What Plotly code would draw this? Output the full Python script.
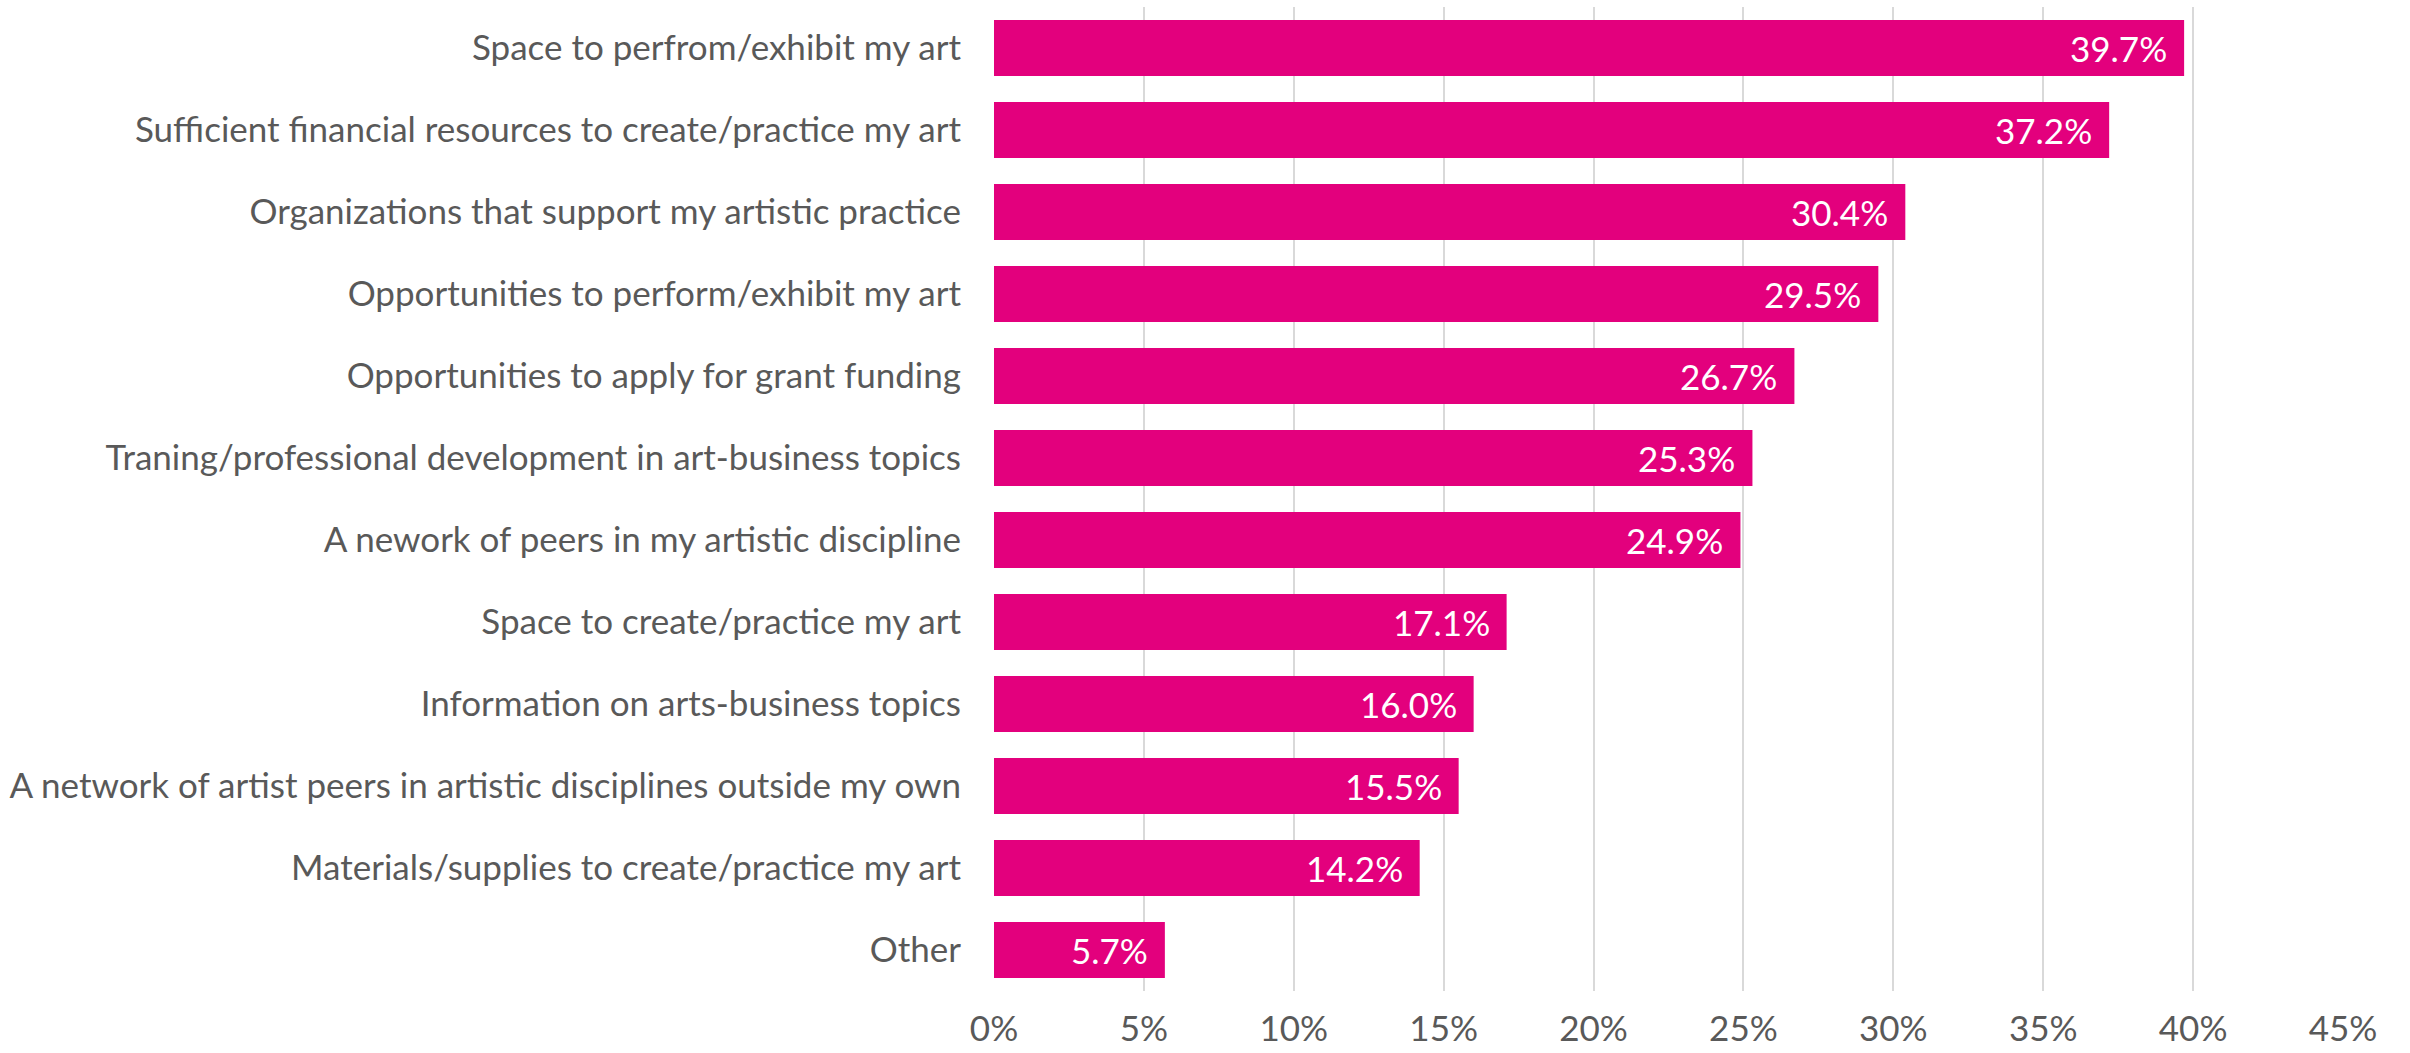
import plotly.graph_objects as go

# Survey responses: share of artists naming each resource
categories = [
    "Space to perfrom/exhibit my art",
    "Sufficient financial resources to create/practice my art",
    "Organizations that support my artistic practice",
    "Opportunities to perform/exhibit my art",
    "Opportunities to apply for grant funding",
    "Traning/professional development in art-business topics",
    "A nework of peers in my artistic discipline",
    "Space to create/practice my art",
    "Information on arts-business topics",
    "A network of artist peers in artistic disciplines outside my own",
    "Materials/supplies to create/practice my art",
    "Other",
]
values = [0.397, 0.372, 0.304, 0.295, 0.267, 0.253, 0.249, 0.171, 0.160, 0.155, 0.142, 0.057]
tick_values = [0, 0.05, 0.10, 0.15, 0.20, 0.25, 0.30, 0.35, 0.40, 0.45]
tick_labels = ["0%", "5%", "10%", "15%", "20%", "25%", "30%", "35%", "40%", "45%"]

BAR = "#E3007D"
TEXT = "#595959"
FONT = "Lato"
SIZE = 35

fig = go.Figure(
    go.Bar(
        x=values,
        y=categories,
        orientation="h",
        marker=dict(color=BAR, line=dict(width=0)),
        width=0.68,
        hoverinfo="skip",
    )
)

# value labels inside the end of each bar
for cat, v in zip(categories, values):
    fig.add_annotation(
        x=v, y=cat, xref="x", yref="y",
        text=f"{v * 100:.1f}%",
        showarrow=False, xanchor="right", yanchor="middle",
        xshift=-15,
        font=dict(family=FONT, size=SIZE, color="white"),
    )

fig.update_layout(
    width=2410, height=1053,
    margin=dict(l=994, r=67, t=7, b=62, autoexpand=False),
    paper_bgcolor="white", plot_bgcolor="white",
    showlegend=False,
    font=dict(family=FONT, size=SIZE, color=TEXT),
    xaxis=dict(
        range=[0, 0.45],
        tickvals=tick_values, ticktext=tick_labels,
        showgrid=True, gridcolor="#D9D9D9", gridwidth=1.5,
        zeroline=False, showline=False, ticks="",
        ticklabelstandoff=14,
        automargin=False,
        tickfont=dict(family=FONT, size=SIZE, color=TEXT),
        fixedrange=True,
    ),
    yaxis=dict(
        autorange="reversed",
        showgrid=False, zeroline=False, showline=False, ticks="",
        ticklabelstandoff=32,
        automargin=False,
        tickfont=dict(family=FONT, size=SIZE, color=TEXT),
        fixedrange=True,
    ),
)

fig.write_html("out.html", config={"displayModeBar": False})
